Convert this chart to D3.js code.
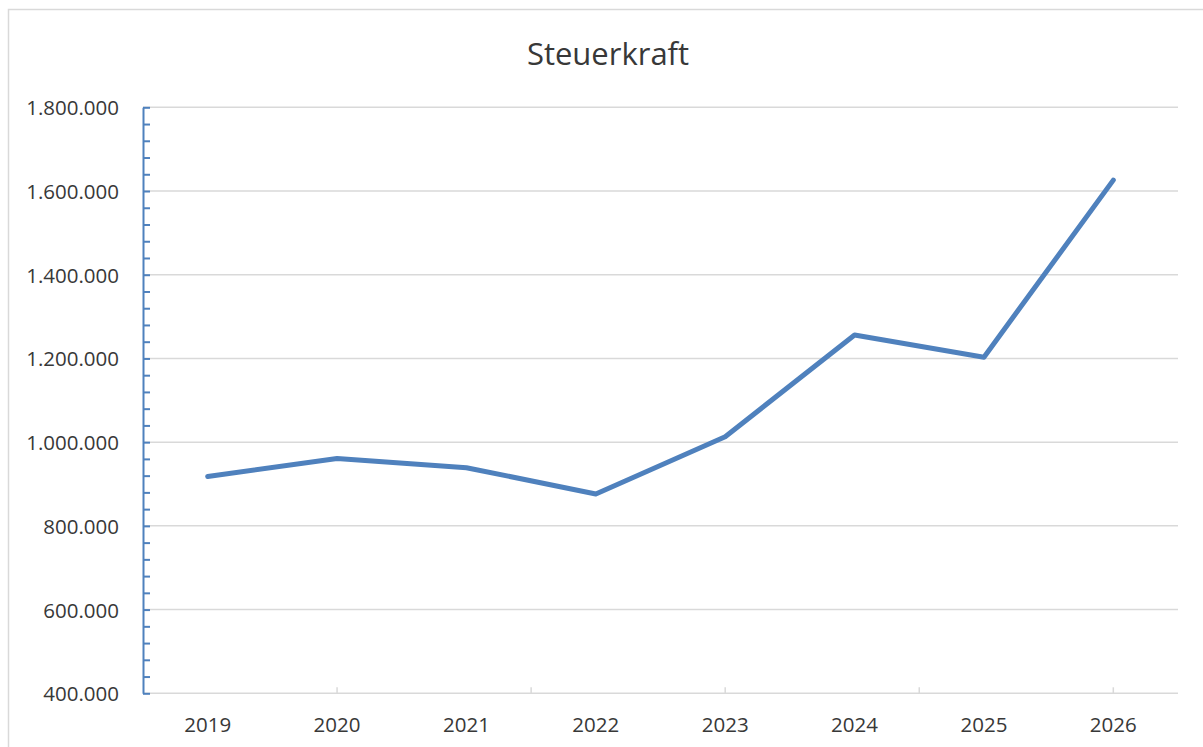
<!DOCTYPE html>
<html>
<head>
<meta charset="utf-8">
<script src="https://cdn.jsdelivr.net/npm/d3@7"></script>
<style>
  html, body { margin: 0; padding: 0; background: #fff; }
  svg { display: block; font-family: "Open Sans", sans-serif; }
</style>
</head>
<body>
<svg id="chart" width="1203" height="747"></svg>
<script>
const title = "Steuerkraft";
const years = ["2019", "2020", "2021", "2022", "2023", "2024", "2025", "2026"];
const values = [918000, 961000, 939000, 876000, 1013000, 1256000, 1203000, 1626000];
const yTicks = [400000, 600000, 800000, 1000000, 1200000, 1400000, 1600000, 1800000];

const svg = d3.select("#chart");
const W = 1203, H = 747;
const plot = { left: 143, right: 1178, top: 107.3, bottom: 693.3 };

const de = d3.formatLocale({ decimal: ",", thousands: ".", grouping: [3], currency: ["", " €"] });
const fmt = de.format(",");
const textColor = "#383838";

// chart border
svg.append("rect")
  .attr("x", 8.5).attr("y", 9.5)
  .attr("width", W + 20).attr("height", H + 20)
  .attr("fill", "none").attr("stroke", "#d9d9d9").attr("stroke-width", 1.5);

const x = d3.scaleBand().domain(years).range([plot.left, plot.right]).paddingInner(0).paddingOuter(0);
const y = d3.scaleLinear().domain([400000, 1800000]).range([plot.bottom, plot.top]);

// gridlines
svg.append("g").selectAll("line")
  .data(yTicks.filter(v => v > 400000))
  .join("line")
  .attr("x1", plot.left).attr("x2", plot.right)
  .attr("y1", d => y(d)).attr("y2", d => y(d))
  .attr("stroke", "#d9d9d9").attr("stroke-width", 1.5);

// x axis line + ticks (every 1.5 categories from axis origin)
const step = x.step();
const xTickPos = d3.range(0, 6).map(k => plot.left + k * 1.5 * step);
svg.append("line")
  .attr("x1", plot.left).attr("x2", plot.right)
  .attr("y1", plot.bottom).attr("y2", plot.bottom)
  .attr("stroke", "#d9d9d9").attr("stroke-width", 1.5);
svg.append("g").selectAll("line")
  .data(xTickPos.slice(1))
  .join("line")
  .attr("x1", d => d).attr("x2", d => d)
  .attr("y1", plot.bottom).attr("y2", plot.bottom - 6)
  .attr("stroke", "#d9d9d9").attr("stroke-width", 1.5);

// x labels
svg.append("g").selectAll("text")
  .data(years)
  .join("text")
  .attr("x", d => x(d) + x.bandwidth() / 2)
  .attr("y", 724)
  .attr("text-anchor", "middle")
  .attr("dominant-baseline", "central")
  .attr("font-size", 20.5)
  .attr("fill", textColor)
  .text(d => d);

// y axis (blue) with major and minor ticks pointing inward
const minorTicks = d3.range(400000, 1800001, 40000);
const yAxis = d3.axisLeft(y).tickValues(minorTicks).tickSizeInner(-7).tickSizeOuter(0).tickFormat("");
const gy = svg.append("g").attr("transform", `translate(${plot.left},0)`).call(yAxis);
gy.select(".domain").attr("stroke", "#4f81bd").attr("stroke-width", 2);
gy.selectAll(".tick line").attr("stroke", "#4f81bd").attr("stroke-width", 2);

// y labels
svg.append("g").selectAll("text")
  .data(yTicks)
  .join("text")
  .attr("x", 119)
  .attr("y", d => y(d))
  .attr("text-anchor", "end")
  .attr("dominant-baseline", "central")
  .attr("font-size", 20.5)
  .attr("fill", textColor)
  .text(d => fmt(d));

// series line
const line = d3.line()
  .x((d, i) => x(years[i]) + x.bandwidth() / 2)
  .y(d => y(d));
svg.append("path")
  .datum(values)
  .attr("d", line)
  .attr("fill", "none")
  .attr("stroke", "#4f81bd")
  .attr("stroke-width", 5)
  .attr("stroke-linejoin", "round")
  .attr("stroke-linecap", "round");

// title
svg.append("text")
  .attr("x", 608).attr("y", 65)
  .attr("text-anchor", "middle")
  .attr("font-size", 31)
  .attr("fill", textColor)
  .text(title);
</script>
</body>
</html>
